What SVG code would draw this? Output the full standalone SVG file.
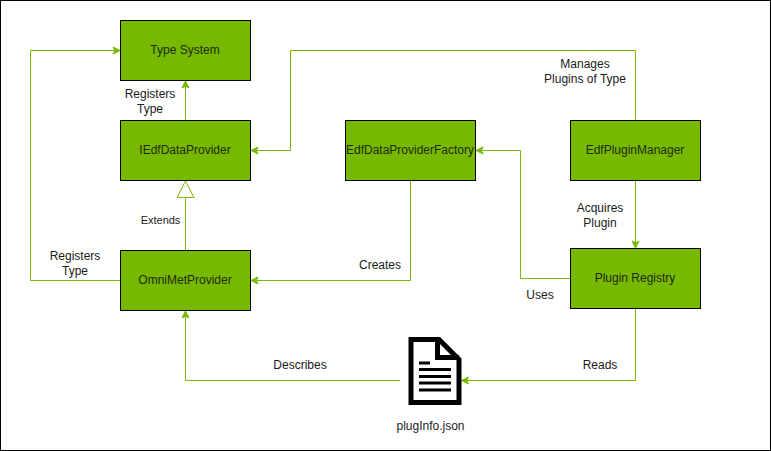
<svg xmlns="http://www.w3.org/2000/svg" width="771" height="451" viewBox="0 0 771 451">
<defs>
<marker id="arrow" markerUnits="userSpaceOnUse" markerWidth="12" markerHeight="12" refX="8.500" refY="5" orient="auto"><path d="M1.500 1.500L8.500 5L1.500 8.500L3.250 5Z" fill="#76b900" stroke="#76b900" stroke-width="1"/></marker>
<marker id="tri" markerUnits="userSpaceOnUse" markerWidth="20" markerHeight="20" refX="17" refY="9" orient="auto"><path d="M0.500 0.500L17 9L0.500 17.500Z" fill="#fff" stroke="#76b900" stroke-width="1"/></marker>
</defs>
<style>
.n{fill:#76b900;stroke:#000;stroke-width:1}
.c{fill:none;stroke:#76b900;stroke-width:1;marker-end:url(#arrow)}
.g{fill:none;stroke:#76b900;stroke-width:1;marker-end:url(#tri)}
text{font-family:"Liberation Sans",Arial,sans-serif;font-size:12px;fill:#1a1a1a;text-anchor:middle}
.t{fill:#1f2a00}
</style>
<rect x="0.500" y="0.500" width="770" height="450" fill="#fff" stroke="#000"/>
<g id="connectors">
<path class="c" d="M185.500 120.500V81"/>
<path class="g" d="M185.500 250.500V181"/>
<path class="c" d="M120.500 280.500H30.500V50.500H120"/>
<path class="c" d="M635.500 120.500V50.500H290.500V150.500H251"/>
<path class="c" d="M635.500 180.500V248"/>
<path class="c" d="M570.500 278.500H520.500V150.500H476"/>
<path class="c" d="M410.500 180.500V280.500H251"/>
<path class="c" d="M635.500 308.500V380.500H461.500"/>
<path class="c" d="M400 380.500H185.500V311"/>
</g>
<g id="type-system"><rect class="n" x="120.500" y="20.500" width="130" height="60"/><text class="t" x="185" y="54">Type System</text></g>
<g id="iedf-data-provider"><rect class="n" x="120.500" y="120.500" width="130" height="60"/><text class="t" x="185" y="154">IEdfDataProvider</text></g>
<g id="omni-met-provider"><rect class="n" x="120.500" y="250.500" width="130" height="60"/><text class="t" x="185" y="284">OmniMetProvider</text></g>
<g id="edf-data-provider-factory"><rect class="n" x="345.500" y="120.500" width="130" height="60"/><text class="t" x="410" y="154">EdfDataProviderFactory</text></g>
<g id="edf-plugin-manager"><rect class="n" x="570.500" y="120.500" width="130" height="60"/><text class="t" x="635" y="154">EdfPluginManager</text></g>
<g id="plugin-registry"><rect class="n" x="570.500" y="248.500" width="130" height="60"/><text class="t" x="635" y="282">Plugin Registry</text></g>
<g id="plugin-info">
<path d="M411 339.500H439L459 359.500V402.500H411Z" fill="#fff" stroke="#000" stroke-width="5"/>
<path d="M437.500 339.500V357.500H459" fill="none" stroke="#000" stroke-width="5"/>
<path d="M419 363H430M419 369.500H451M419 376.500H451M419 383H451M419 390H451" stroke="#000" stroke-width="3" fill="none"/>
<text x="430.500" y="430">plugInfo.json</text>
</g>
<g id="labels">
<text x="150" y="98">Registers</text><text x="150" y="113">Type</text>
<text x="160.500" y="224" style="font-size:11px">Extends</text>
<text x="75" y="260">Registers</text><text x="75" y="275">Type</text>
<text x="585" y="68">Manages</text><text x="585" y="83">Plugins of Type</text>
<text x="600" y="212">Acquires</text><text x="600" y="227">Plugin</text>
<text x="380" y="269">Creates</text>
<text x="540" y="299">Uses</text>
<text x="600" y="369">Reads</text>
<text x="300" y="369">Describes</text>
</g>
</svg>
